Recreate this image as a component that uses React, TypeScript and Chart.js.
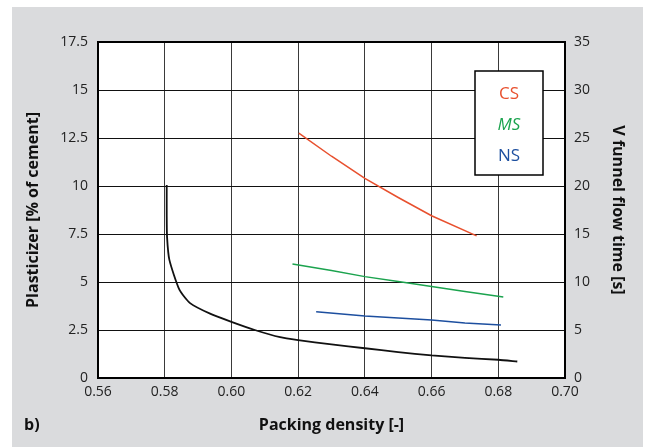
import React, { useEffect, useRef } from "react";
import { Chart, registerables } from "chart.js";

Chart.register(...registerables);

// ---- data ----
const xTickValues = [0.56, 0.58, 0.6, 0.62, 0.64, 0.66, 0.68, 0.7];
const leftTickValues = [0, 2.5, 5, 7.5, 10, 12.5, 15, 17.5];
const rightTickValues = [0, 5, 10, 15, 20, 25, 30, 35];

const csX = [0.6202, 0.63, 0.64, 0.65, 0.66, 0.6735];
const csY = [12.75, 11.55, 10.4, 9.4, 8.45, 7.4];

const msX = [0.6183, 0.63, 0.64, 0.65, 0.66, 0.67, 0.6815];
const msY = [5.94, 5.6, 5.28, 5.02, 4.76, 4.5, 4.22];

const nsX = [0.6254, 0.64, 0.65, 0.66, 0.67, 0.6808];
const nsY = [3.45, 3.23, 3.12, 3.02, 2.86, 2.76];

// V funnel flow time (right axis)
const vfX = [0.5806, 0.5806, 0.5807, 0.5814, 0.5844, 0.5876, 0.5936, 0.6, 0.607, 0.6146, 0.62, 0.63, 0.64, 0.65, 0.66, 0.67, 0.68, 0.6857];
const vfY = [20.1, 17.0, 14.7, 12.3, 9.2, 7.8, 6.7, 5.85, 5.0, 4.25, 3.95, 3.5, 3.1, 2.7, 2.35, 2.1, 1.9, 1.72];

const legendItems = ["CS", "MS", "NS"];
const seriesColors = ["#E8502E", "#1BA34E", "#1D4F9F", "#111111"];

const toPts = (xs: number[], ys: number[]) => xs.map((x, i) => ({ x, y: ys[i] }));

const FONT = "'Open Sans', 'DejaVu Sans', sans-serif";

export default function App() {
  const ref = useRef<HTMLCanvasElement | null>(null);

  useEffect(() => {
    if (!ref.current) return;

    const framePlugin = {
      id: "frame",
      beforeDraw(chart: any) {
        const { ctx, chartArea: a } = chart;
        ctx.save();
        ctx.fillStyle = "#ffffff";
        ctx.fillRect(a.left, a.top, a.right - a.left, a.bottom - a.top);
        ctx.restore();
      },
      afterDatasetsDraw(chart: any) {
        const { ctx, chartArea: a } = chart;
        ctx.save();
        ctx.strokeStyle = "#000";
        ctx.lineWidth = 2;
        ctx.strokeRect(a.left, a.top, a.right - a.left, a.bottom - a.top);
        // legend box
        const bw = 68, bh = 104;
        const bx = a.right - 22 - bw;
        const by = a.top + 29;
        ctx.fillStyle = "#fff";
        ctx.fillRect(bx, by, bw, bh);
        ctx.lineWidth = 1.5;
        ctx.strokeRect(bx, by, bw, bh);
        ctx.textAlign = "center";
        ctx.textBaseline = "middle";
        legendItems.forEach((t, i) => {
          ctx.fillStyle = seriesColors[i];
          ctx.font = (i === 1 ? "italic " : "") + "17px " + FONT;
          ctx.fillText(t, bx + bw / 2, by + 23 + i * 31);
        });
        // panel label
        ctx.fillStyle = "#111";
        ctx.font = "bold 16px " + FONT;
        ctx.textAlign = "left";
        ctx.fillText("b)", 12, chart.height - 22);
        ctx.restore();
      },
    };

    const tickFont = { family: FONT, size: 14 };
    const titleFont = { family: FONT, size: 16, weight: "bold" as const };

    const chart = new Chart(ref.current, {
      type: "line",
      data: {
        datasets: [
          { label: "CS", data: toPts(csX, csY), borderColor: seriesColors[0], borderWidth: 1.5, pointRadius: 0, yAxisID: "y" },
          { label: "MS", data: toPts(msX, msY), borderColor: seriesColors[1], borderWidth: 1.5, pointRadius: 0, yAxisID: "y" },
          { label: "NS", data: toPts(nsX, nsY), borderColor: seriesColors[2], borderWidth: 1.5, pointRadius: 0, yAxisID: "y" },
          { label: "V funnel", data: toPts(vfX, vfY), borderColor: seriesColors[3], borderWidth: 1.8, pointRadius: 0, yAxisID: "y2", tension: 0.2 },
        ],
      },
      options: {
        animation: false,
        responsive: false,
        devicePixelRatio: 1,
        layout: { padding: { left: 0, right: 0, top: 35, bottom: 0 } },
        plugins: { legend: { display: false }, tooltip: { enabled: false } },
        scales: {
          x: {
            type: "linear",
            min: 0.56,
            max: 0.7,
            afterBuildTicks: (s: any) => { s.ticks = xTickValues.map((v) => ({ value: v })); },
            afterFit: (s: any) => { s.height = 69; },
            grid: { color: "#3a3a3a", lineWidth: 1, drawTicks: false },
            border: { display: false },
            ticks: { font: tickFont, color: "#222", padding: 6, maxRotation: 0, callback: (v: any) => Number(v).toFixed(2) },
            title: { display: true, text: "Packing density [-]", font: titleFont, color: "#111", padding: { top: 0, bottom: 12 } },
          },
          y: {
            type: "linear",
            position: "left",
            min: 0,
            max: 17.5,
            afterBuildTicks: (s: any) => { s.ticks = leftTickValues.map((v) => ({ value: v })); },
            afterFit: (s: any) => { s.width = 86; },
            grid: { color: "#111", lineWidth: 1, drawTicks: false },
            border: { display: false },
            ticks: { font: tickFont, color: "#222", padding: 10, callback: (v: any) => String(v) },
            title: { display: true, text: "Plasticizer [% of cement]", font: titleFont, color: "#111", padding: { top: 12, bottom: 0 } },
          },
          y2: {
            type: "linear",
            position: "right",
            min: 0,
            max: 35,
            afterBuildTicks: (s: any) => { s.ticks = rightTickValues.map((v) => ({ value: v })); },
            afterFit: (s: any) => { s.width = 78; },
            grid: { display: false, drawTicks: false },
            border: { display: false },
            ticks: { font: tickFont, color: "#222", padding: 9, callback: (v: any) => String(v) },
            title: { display: true, text: "V funnel flow time [s]", font: titleFont, color: "#111", padding: { top: 16, bottom: 0 } },
          },
        },
      },
      plugins: [framePlugin],
    } as any);

    return () => chart.destroy();
  }, []);

  return (
    <div style={{ position: "absolute", left: 0, top: 0, width: 646, height: 447, background: "#fff" }}>
      <div style={{ position: "absolute", left: 12, top: 7, width: 631, height: 440, background: "#DADBDD" }}>
        <canvas ref={ref} width={631} height={440} style={{ width: 631, height: 440, display: "block" }} />
      </div>
    </div>
  );
}
